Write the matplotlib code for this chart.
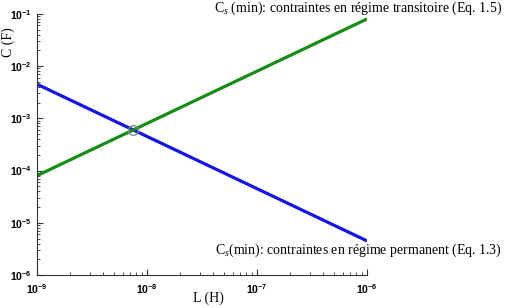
import numpy as np
import matplotlib
matplotlib.use("Agg")
import matplotlib.pyplot as plt
from matplotlib.ticker import FuncFormatter, LogLocator

plt.rcParams['font.family'] = 'Liberation Serif'
plt.rcParams['mathtext.fontset'] = 'custom'
plt.rcParams['mathtext.rm'] = 'Liberation Serif'
plt.rcParams['mathtext.it'] = 'Liberation Serif:italic'
plt.rcParams['mathtext.bf'] = 'Liberation Sans:bold'

# Data
L = [1e-9, 1e-6]
C_perm = [4.5e-3, 4.5e-6]     # regime permanent (Eq. 1.3)
C_trans = [8e-5, 8e-2]        # regime transitoire (Eq. 1.5)
L_cross = 7.5e-9
C_cross = 6e-4

fig = plt.figure(figsize=(5.07, 3.08), dpi=100)
ax = fig.add_axes([0.073, 0.107, 0.651, 0.848])

ax.plot(L, C_perm, color='#1414e6', lw=2.3, solid_capstyle='butt')
ax.plot(L, C_trans, color='#168c16', lw=2.3, solid_capstyle='butt')
ax.plot([L_cross], [C_cross], 'o', ms=7, mfc='none', mec='#8a8a8a', mew=1)

ax.set_xscale('log')
ax.set_yscale('log')
ax.set_xlim(1e-9, 1e-6)
ax.set_ylim(1e-6, 1e-1)

fmt = FuncFormatter(lambda v, p: r'$\mathbf{10^{%d}}$' % round(np.log10(v)))
ax.xaxis.set_major_formatter(fmt)
ax.yaxis.set_major_formatter(fmt)
ax.xaxis.set_minor_locator(LogLocator(subs=np.arange(2, 10)))
ax.yaxis.set_minor_locator(LogLocator(subs=np.arange(2, 10)))
ax.tick_params(which='both', direction='in', labelsize=7.5, color='#333333')
ax.tick_params(which='major', length=4)
ax.tick_params(which='minor', length=2)
ax.tick_params(axis='y', pad=4)
ax.tick_params(axis='x', pad=5)

for s in ['top', 'right']:
    ax.spines[s].set_visible(False)
for s in ['left', 'bottom']:
    ax.spines[s].set_color('#333333')

fig.text(208 / 507, 1 - 298 / 308, 'L (H)', ha='center', va='center', fontsize=10)
fig.text(8 / 507, 1 - 42 / 308, 'C (F)', ha='center', va='center', fontsize=10,
         rotation=90)

fig.text(0.99, 1 - 8 / 308, r'C$_s$ (min): contraintes en régime transitoire (Eq. 1.5)',
         ha='right', va='center', fontsize=10)
fig.text(0.99, 1 - 250 / 308, r'C$_s$(min): contraintes en régime permanent (Eq. 1.3)',
         ha='right', va='center', fontsize=10)

fig.savefig('out.png', dpi=100)
